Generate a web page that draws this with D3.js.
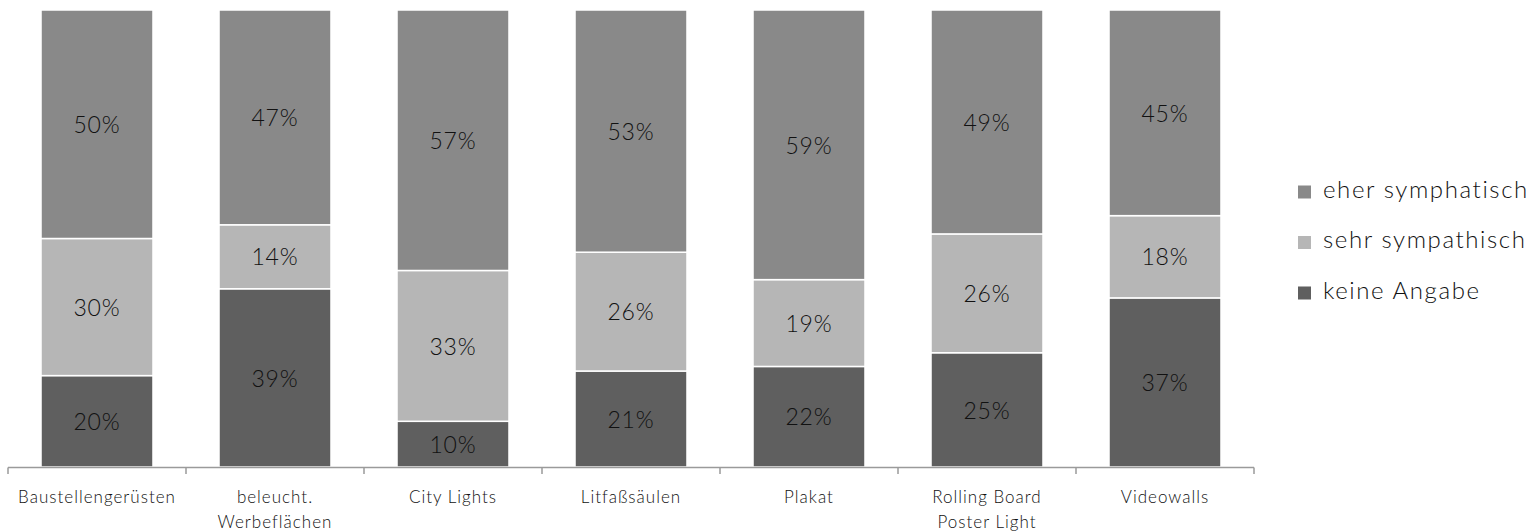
<!DOCTYPE html>
<html>
<head>
<meta charset="utf-8">
<script src="https://cdn.jsdelivr.net/npm/d3@7/dist/d3.min.js"></script>
<style>
  html, body { margin: 0; padding: 0; background: #fff; }
  svg { display: block; font-family: "Lato", "DejaVu Sans", sans-serif; }
</style>
</head>
<body>
<svg id="chart" width="1533" height="531"></svg>
<script>
// Categories (two-line labels split on "\n")
const categories = [
  "Baustellengerüsten",
  "beleucht.\nWerbeflächen",
  "City Lights",
  "Litfaßsäulen",
  "Plakat",
  "Rolling Board\nPoster Light",
  "Videowalls"
];

// Series, stacked bottom to top (percent)
const keineAngabe      = [20, 39, 10, 21, 22, 25, 37];
const sehrSympathisch  = [30, 14, 33, 26, 19, 26, 18];
const eherSymphatisch  = [50, 47, 57, 53, 59, 49, 45];

const seriesNames  = ["keine Angabe", "sehr sympathisch", "eher symphatisch"];
const seriesColors = ["#5f5f5f", "#b6b6b6", "#898989"];
const legendOrder  = ["eher symphatisch", "sehr sympathisch", "keine Angabe"];

const yTicks = [0, 100];

const svg = d3.select("#chart");

const x = d3.scaleBand()
  .domain(categories)
  .range([8, 1254])
  .paddingInner(0.371)
  .paddingOuter(0.1855);

const y = d3.scaleLinear().domain(yTicks).range([467, 10]);

const color = d3.scaleOrdinal().domain(seriesNames).range(seriesColors);

const rows = categories.map((c, i) => ({
  cat: c,
  "keine Angabe": keineAngabe[i],
  "sehr sympathisch": sehrSympathisch[i],
  "eher symphatisch": eherSymphatisch[i]
}));

const stacked = d3.stack().keys(seriesNames)(rows);

// Bars
const layer = svg.append("g").selectAll("g")
  .data(stacked)
  .join("g")
  .attr("fill", d => color(d.key));

layer.selectAll("rect")
  .data(d => d)
  .join("rect")
  .attr("x", d => x(d.data.cat))
  .attr("width", x.bandwidth())
  .attr("y", d => y(d[1]))
  .attr("height", d => y(d[0]) - y(d[1]))
  .attr("stroke", "#fff")
  .attr("stroke-width", 1.5);

// Value labels
layer.selectAll("text")
  .data(d => d)
  .join("text")
  .attr("x", d => x(d.data.cat) + x.bandwidth() / 2)
  .attr("y", d => (y(d[0]) + y(d[1])) / 2 + 3)
  .attr("text-anchor", "middle")
  .attr("dominant-baseline", "middle")
  .attr("font-size", 23)
  .attr("font-weight", 300)
  .attr("letter-spacing", 0.8)
  .attr("fill", "#111")
  .text(d => Math.round(d[1] - d[0]) + "%");

// Category axis: baseline with ticks at band boundaries
const step = x.step();
const gap = step * x.paddingInner();
const bounds = categories.map(c => x(c) - gap / 2);
bounds.push(x(categories[categories.length - 1]) + x.bandwidth() + gap / 2);

const axis = svg.append("g").attr("stroke", "#9a9a9a").attr("stroke-width", 1.5);
axis.append("line")
  .attr("x1", bounds[0]).attr("x2", bounds[bounds.length - 1])
  .attr("y1", y(0) + 0.5).attr("y2", y(0) + 0.5);
axis.selectAll("line.tick")
  .data(bounds)
  .join("line")
  .attr("class", "tick")
  .attr("x1", d => d).attr("x2", d => d)
  .attr("y1", y(0) + 0.5).attr("y2", y(0) + 7);

const labels = svg.append("g").selectAll("text")
  .data(categories)
  .join("text")
  .attr("x", d => x(d) + x.bandwidth() / 2)
  .attr("y", 503)
  .attr("text-anchor", "middle")
  .attr("font-size", 17)
  .attr("font-weight", 300)
  .attr("letter-spacing", 1)
  .attr("fill", "#111");

labels.selectAll("tspan")
  .data(d => d.split("\n").map((t, i) => ({ t, i, x: x(d) + x.bandwidth() / 2 })))
  .join("tspan")
  .attr("x", d => d.x)
  .attr("dy", d => d.i === 0 ? 0 : 25)
  .text(d => d.t);

// Legend
const legend = svg.append("g").selectAll("g")
  .data(legendOrder)
  .join("g")
  .attr("transform", (d, i) => `translate(1298, ${192 + i * 50.5})`);

legend.append("rect")
  .attr("x", 0).attr("y", -6.5)
  .attr("width", 13).attr("height", 13)
  .attr("fill", d => color(d));

legend.append("text")
  .attr("x", 25)
  .attr("y", 0)
  .attr("dominant-baseline", "middle")
  .attr("font-size", 24)
  .attr("font-weight", 300)
  .attr("letter-spacing", 1.6)
  .attr("fill", "#111")
  .text(d => d);
</script>
</body>
</html>
